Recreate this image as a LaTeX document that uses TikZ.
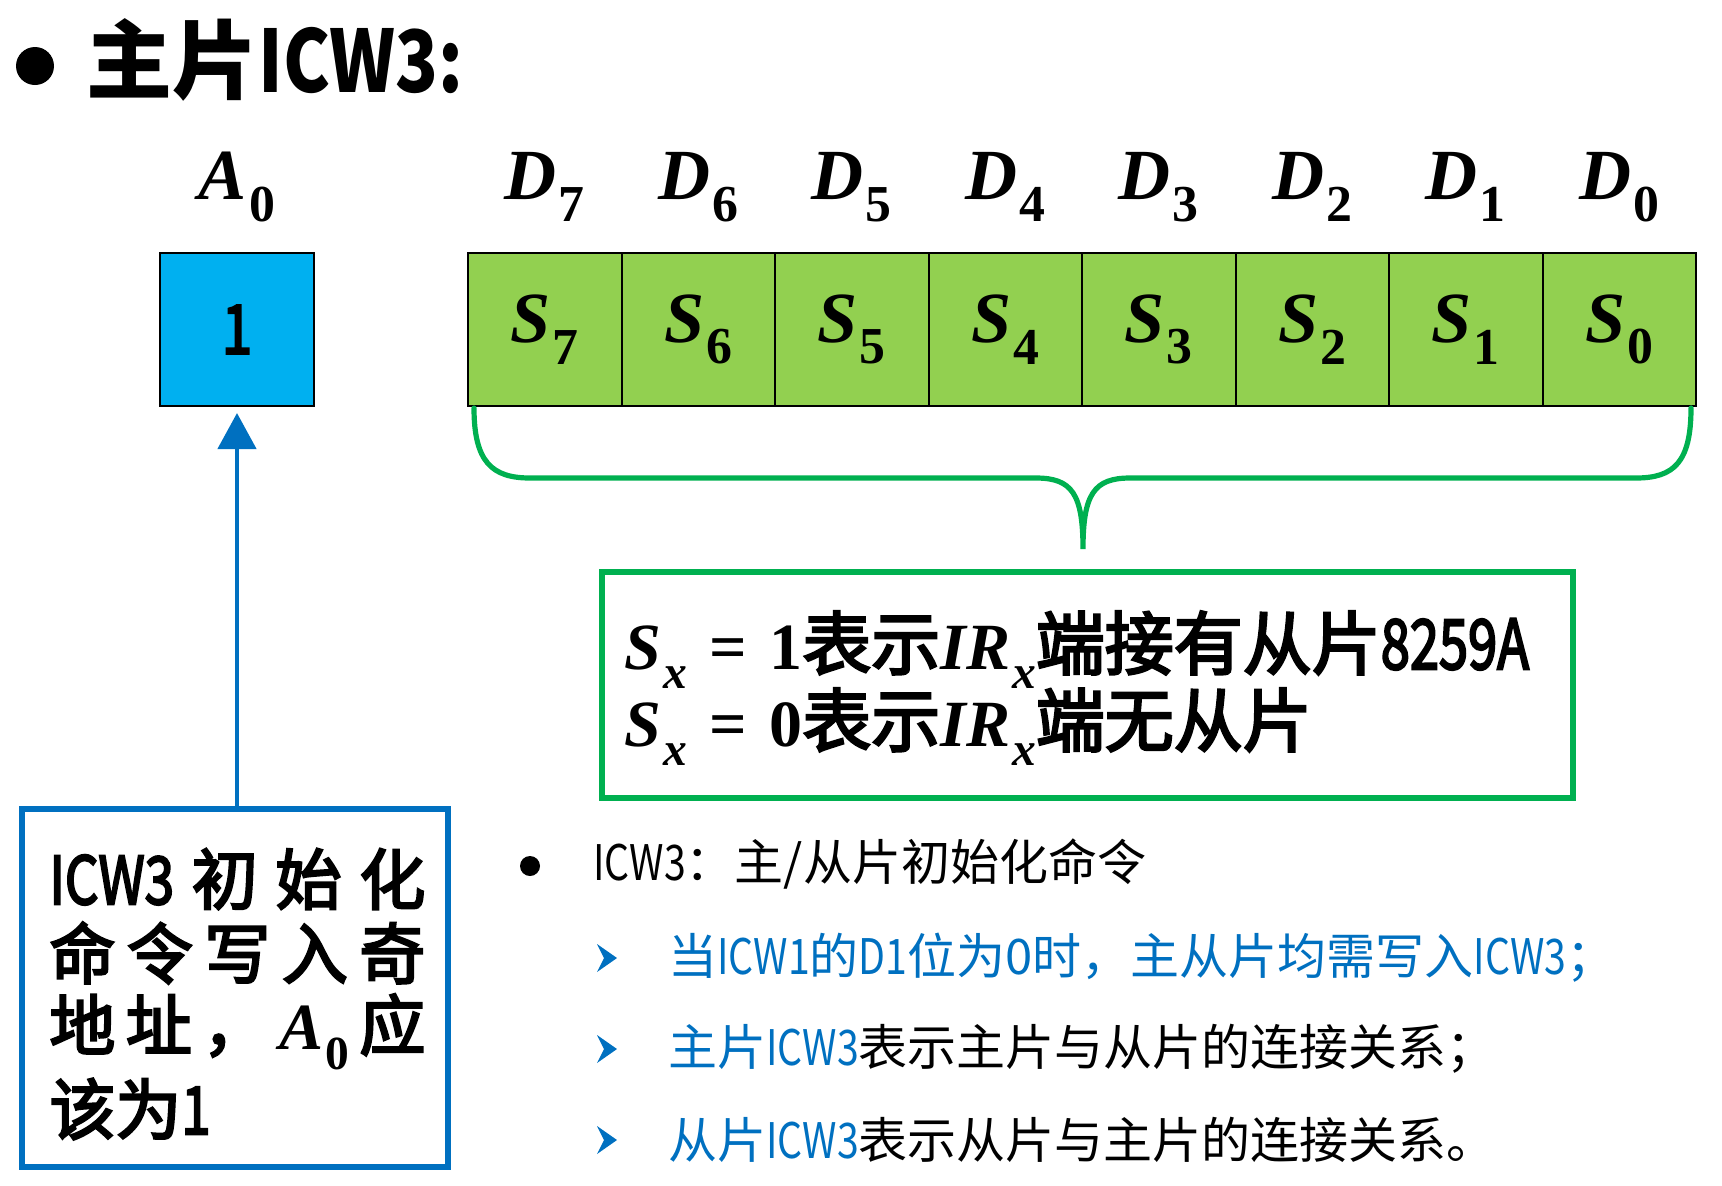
\documentclass[tikz,border=0pt]{standalone}
\usepackage{fontspec}
\setmainfont{Noto Sans CJK SC}
\newfontfamily\cjkm{Noto Sans CJK SC}[FakeBold=3.5]
\newfontfamily\msf{Liberation Serif}
\usepackage{graphicx}
\usetikzlibrary{arrows.meta}
\definecolor{cyanbox}{RGB}{0,176,240}
\definecolor{greenfill}{RGB}{146,208,80}
\definecolor{greenline}{RGB}{0,176,80}
\definecolor{blueline}{RGB}{0,112,192}
\newcommand\nar[1]{\scalebox{0.8}[1]{#1}}
\newcommand\sym[2]{{\msf\bfseries\itshape #1}\kern0.03em\raisebox{-0.3em}{\scalebox{0.72}{\msf\bfseries #2}}}
\newcommand\bigcjk{\fontsize{34.5}{40}\selectfont}
\begin{document}
\begin{tikzpicture}[x=0.5pt,y=-0.5pt,
  cell/.style={draw=black,line width=1pt,fill=greenfill,minimum width=76.75pt,minimum height=76.5pt,inner sep=0pt,font=\fontsize{36}{40}\selectfont},
  lbl/.style={inner sep=0pt,font=\fontsize{36}{40}\selectfont},
  boxtxt/.style={inner sep=0pt,anchor=west,font=\fontsize{33}{40}\selectfont\cjkm},
  listtxt/.style={inner sep=0pt,anchor=west,font=\fontsize{24.5}{30}\selectfont},
  pointer/.style={fill=blueline}
]
\useasboundingbox (0,0) rectangle (1722,1185);

% title
\fill[black] (35,66) circle[radius=9.5pt];
\node[inner sep=0pt,anchor=west,font=\fontsize{43}{50}\selectfont\bfseries] (title) at (86,60) {主片\scalebox{0.82}[1]{ICW3:}};

% A0 box
\node[lbl] (a0) at (237,187) {\sym{A}{0}};
\node[draw=black,line width=1pt,fill=cyanbox,minimum width=77pt,minimum height=76.5pt,inner sep=0pt,font=\fontsize{34}{40}\selectfont\cjkm] (one) at (237,329.5) {\nar{1}};

% D labels and register
\node[lbl] (d7) at (544.75,187) {\sym{D}{7}};
\node[lbl] (d6) at (698.25,187) {\sym{D}{6}};
\node[lbl] (d5) at (851.75,187) {\sym{D}{5}};
\node[lbl] (d4) at (1005.25,187) {\sym{D}{4}};
\node[lbl] (d3) at (1158.75,187) {\sym{D}{3}};
\node[lbl] (d2) at (1312.25,187) {\sym{D}{2}};
\node[lbl] (d1) at (1465.75,187) {\sym{D}{1}};
\node[lbl] (d0) at (1619.25,187) {\sym{D}{0}};

\node[cell] (s7) at (544.75,329.5) {\sym{S}{7}};
\node[cell] (s6) at (698.25,329.5) {\sym{S}{6}};
\node[cell] (s5) at (851.75,329.5) {\sym{S}{5}};
\node[cell] (s4) at (1005.25,329.5) {\sym{S}{4}};
\node[cell] (s3) at (1158.75,329.5) {\sym{S}{3}};
\node[cell] (s2) at (1312.25,329.5) {\sym{S}{2}};
\node[cell] (s1) at (1465.75,329.5) {\sym{S}{1}};
\node[cell] (s0) at (1619.25,329.5) {\sym{S}{0}};

% brace
\draw[greenline,line width=2.6pt,line cap=round]
  (474,408) .. controls (474,462) and (492,478) .. (530,478)
  -- (1036,478) .. controls (1072,478) and (1083,494) .. (1083,549)
  .. controls (1083,494) and (1094,478) .. (1130,478)
  -- (1636,478) .. controls (1674,478) and (1691,462) .. (1691,408);

% explanation box
\node[draw=greenline,line width=3pt,minimum width=485.5pt,minimum height=113pt,inner sep=0pt] (expl) at (1087.5,685) {};
\node[inner sep=0pt,anchor=west,font=\fontsize{33}{40}\selectfont\cjkm] (e1) at (624,650) {\sym{S}{\itshape x}\hspace{0.35em}{\msf\bfseries =}\hspace{0.33em}{\msf\bfseries 1}{\bigcjk 表示}{\msf\bfseries\itshape I}\sym{R}{\itshape x}{\bigcjk 端接有从片\scalebox{0.76}[1]{8259A}}};
\node[inner sep=0pt,anchor=west,font=\fontsize{33}{40}\selectfont\cjkm] (e2) at (624,727) {\sym{S}{\itshape x}\hspace{0.35em}{\msf\bfseries =}\hspace{0.33em}{\msf\bfseries 0}{\bigcjk 表示}{\msf\bfseries\itshape I}\sym{R}{\itshape x}{\bigcjk 端无从片}};

% note box
\node[draw=blueline,line width=3pt,minimum width=213pt,minimum height=179pt,inner sep=0pt] (note) at (235,988) {};
\node[boxtxt] (n1) at (49,879) {\hbox to 188pt{\nar{ICW3}\hfill 初\hfill 始\hfill 化}};
\node[boxtxt] (n2) at (49,953) {\hbox to 188pt{命\hfill 令\hfill 写\hfill 入\hfill 奇}};
\node[boxtxt] (n3) at (49,1032) {\hbox to 188pt{地\hfill 址\hfill ，\hfill \sym{A}{0}\hfill 应}};
\node[boxtxt] (n4) at (49,1109) {该为\nar{1}};

% arrow
\draw[blueline,line width=2.3pt,-{Triangle[width=19pt,length=18pt]},shorten >=3pt] (one.south |- note.north) -- (one.south);

% bullet list
\fill[black] (530,866) circle[radius=5pt];
\node[listtxt] (h0) at (593,864) {\nar{ICW3}：主/从片初始化命令};
\fill[pointer] (597,944) -- (617,958) -- (597,972) -- (604,958) -- cycle;
\fill[pointer] (597,1035) -- (617,1049) -- (597,1063) -- (604,1049) -- cycle;
\fill[pointer] (597,1126) -- (617,1140) -- (597,1154) -- (604,1140) -- cycle;
\node[listtxt,text=blueline] (i1) at (668,958) {当\nar{ICW1}的\nar{D1}位为0时，主从片均需写入\nar{ICW3}；};
\node[listtxt] (i2) at (668,1049) {\textcolor{blueline}{主片\nar{ICW3}}表示主片与从片的连接关系；};
\node[listtxt] (i3) at (668,1140) {\textcolor{blueline}{从片\nar{ICW3}}表示从片与主片的连接关系。};
\end{tikzpicture}
\end{document}
